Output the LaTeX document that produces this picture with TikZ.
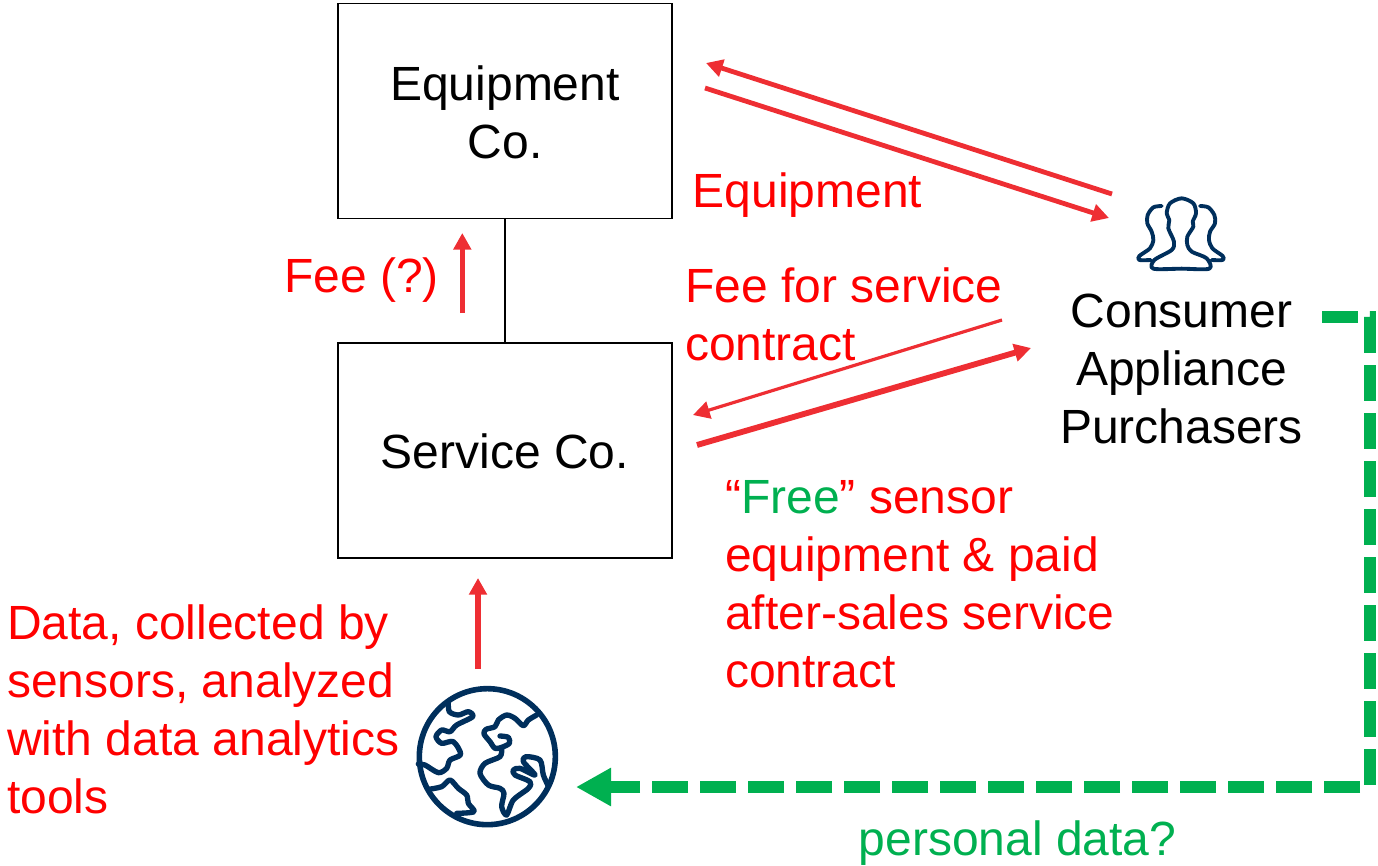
\documentclass[tikz,border=0pt]{standalone}
\usepackage{fontspec}
\setmainfont{Liberation Sans}
\usetikzlibrary{arrows.meta}
\definecolor{redline}{HTML}{EE2E33}
\definecolor{txtred}{HTML}{FF0000}
\definecolor{grn}{HTML}{00B050}
\definecolor{navy}{HTML}{002F5C}
\tikzset{
  box/.style={draw=black,line width=1.4pt,minimum width=250.5pt,minimum height=161.25pt,inner sep=0pt,align=center},
  lbl/.style={inner sep=0pt,font=\fontsize{36}{43.5}\selectfont},
  redlbl/.style={lbl,text=txtred,align=left},
  redarrow/.style={draw=redline,line width=3.6pt,-{Triangle[length=12.5pt,width=13pt]}},
  uparrow/.style={draw=redline,line width=4.2pt,-{Triangle[length=12.5pt,width=13pt]}},
  thinarrow/.style={draw=redline,line width=2.4pt,-{Triangle[length=12.5pt,width=13pt]}},
  thickarrow/.style={draw=redline,line width=4.4pt,-{Triangle[length=12.5pt,width=13pt]}},
  greendash/.style={draw=grn,line width=9pt,dash pattern=on 27pt off 9pt,-{Triangle[length=26.25pt,width=27pt]}},
  iconline/.style={draw=navy,line cap=round,line join=round}
}
\begin{document}
\begin{tikzpicture}[x=0.75pt,y=-0.75pt]
\useasboundingbox (0,0) rectangle (1378,865);
\node[box] (equip) at (505,111) {};
\node[box] (serv) at (505,450.5) {};
\node[lbl,align=center,anchor=center] (equiptxt) at (505,112) {Equipment\\Co.};
\node[lbl,anchor=base] (servtxt) at (505,468) {Service Co.};
\draw[line width=1.4pt] (equip) -- (serv);
\node[lbl,align=center,anchor=center] (cons) at (1181.5,369) {Consumer\\Appliance\\Purchasers};
\node[redlbl,anchor=base west] (eqlbl) at (692.5,207) {Equipment};
\node[redlbl,anchor=base west] (feelbl) at (284,292) {Fee (?)};
\node[redlbl,anchor=north west] (feesvc) at (685,267) {Fee for service\\contract};
\node[redlbl,anchor=north west] (free) at (725,480.5) {“\textcolor{grn}{Free}” sensor\\equipment \& paid\\after-sales service\\contract};
\node[redlbl,anchor=north west] (datal) at (7,604.5) {Data, collected by\\sensors, analyzed\\with data analytics\\tools};
\node[lbl,text=grn,anchor=base west] (pers) at (858.5,855) {personal data?};
% anchors for connectors
\coordinate (a1s) at (1112,194); \coordinate (a1e) at (706,63);
\coordinate (a2s) at (705,88); \coordinate (a2e) at (1109,218);
\coordinate (a3s) at (462.3,313); \coordinate (a3e) at (462.3,233);
\coordinate (a4s) at (1002,320); \coordinate (a4e) at (693,415);
\coordinate (a5s) at (697,445); \coordinate (a5e) at (1031,348);
\coordinate (a6s) at (478,669); \coordinate (a6e) at (478,578);
\coordinate (g1) at (1322,317); \coordinate (g2) at (1370,317); \coordinate (g3) at (1370,787); \coordinate (g4) at (576,787);
\draw[redarrow] (a1s) -- (a1e);
\draw[redarrow] (a2s) -- (a2e);
\draw[uparrow] (a3s) -- (a3e);
\draw[thinarrow] (a4s) -- (a4e);
\draw[thickarrow] (a5s) -- (a5e);
\draw[uparrow] (a6s) -- (a6e);
\draw[greendash] (g1) -- (g2) -- (g3) -- (g4);
% people icon
\begin{scope}[shift={(1100,170)},x=0.25pt,y=-0.25pt]
\draw[iconline,line width=2.9pt] plot[smooth cycle,tension=0.5] coordinates {(160,296) (163,270) (215,240) (222,215) (205,175) (208,150) (200,130) (210,100) (245,85) (280,100) (288,130) (278,155) (280,170) (262,200) (262,225) (275,245) (320,265) (328,296) (245,296)};
\draw[iconline,line width=2.9pt] plot[smooth,tension=0.5] coordinates {(185,108) (160,112) (143,135) (142,160) (155,185) (160,210) (150,235) (118,258) (118,270) (152,270)};
\draw[iconline,line width=2.9pt] plot[smooth,tension=0.5] coordinates {(300,108) (325,112) (343,135) (345,160) (330,185) (327,210) (337,235) (368,258) (368,270) (335,270)};
\end{scope}
% globe icon
\begin{scope}[shift={(400,660)},x=0.25pt,y=-0.25pt]
\draw[iconline,line width=4.2pt] (262,290) circle[radius=51pt];
\draw[iconline,line width=4pt] plot[smooth,tension=0.5] coordinates {(145,125) (148,155) (175,165) (205,155) (218,170) (170,195) (150,215) (125,210) (108,230) (125,250) (160,245) (182,283) (150,300) (140,325) (115,338) (75,315) (55,312)};
\draw[iconline,line width=4pt] plot[smooth,tension=0.5] coordinates {(85,388) (125,380) (150,360) (175,385) (200,405) (205,430) (222,455) (170,460)};
\draw[iconline,line width=4pt] plot[smooth,tension=0.5] coordinates {(410,165) (385,180) (370,197) (345,175) (320,165) (295,180) (285,200) (258,208) (252,222) (270,245) (285,265) (305,262) (328,250) (325,232) (300,228)};
\draw[iconline,line width=4pt] plot[smooth,tension=0.5] coordinates {(305,265) (300,290) (255,310) (240,340) (265,375) (300,385) (312,400) (305,440) (320,465) (340,420) (385,385) (390,365) (345,345) (340,330) (360,325) (405,345) (370,305) (378,290) (420,300) (430,345) (445,378)};
\end{scope}
\end{tikzpicture}
\end{document}
